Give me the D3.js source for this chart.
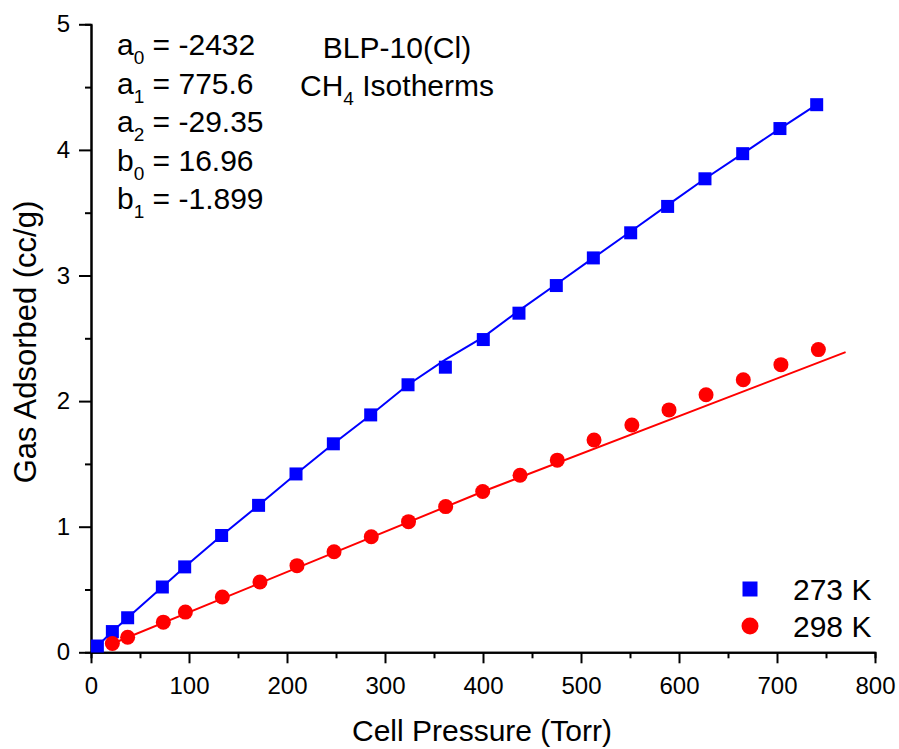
<!DOCTYPE html>
<html>
<head>
<meta charset="utf-8" />
<title>BLP-10(Cl) CH4 Isotherms</title>
<style>
    body { margin: 0; background: #fff; }
    text { font-family: Arial, "Liberation Sans", sans-serif; fill: #000; }
</style>
</head>
<body>
<div id="container"></div>
<script src="https://cdn.jsdelivr.net/npm/d3@7"></script>
<script>
    // data
    const p273 = [6.5, 21.8, 37.4, 72.8, 95.6, 133.3, 171, 209.2, 247.3, 285.4, 323.5, 361.6, 400.3, 436.7, 474.8, 512.6, 550.7, 588.4, 626.5, 665, 703, 740.5]
    const v273 = [0.05, 0.165, 0.275, 0.52, 0.68, 0.93, 1.17, 1.42, 1.66, 1.89, 2.13, 2.27, 2.49, 2.70, 2.92, 3.14, 3.34, 3.55, 3.77, 3.97, 4.17, 4.36]
    const p298 = [21.8, 37.4, 73.8, 96.3, 134, 172.4, 210.2, 248, 286, 324, 361.9, 399.7, 437.8, 475.8, 513.3, 551.9, 589.8, 627.6, 665.6, 704, 742.2]
    const v298 = [0.07, 0.12, 0.24, 0.32, 0.44, 0.56, 0.69, 0.80, 0.92, 1.04, 1.16, 1.28, 1.41, 1.53, 1.69, 1.81, 1.93, 2.05, 2.17, 2.29, 2.41]
    // fit curves
    const fit273x = [6.5, 21.8, 37.4, 72.8, 95.6, 133.3, 171, 209.2, 247.3, 285.4, 323.5, 361.6, 400.3, 436.7, 474.8, 512.6, 550.7, 588.4, 626.5, 665, 703, 740.5]
    const fit273y = [0.05, 0.165, 0.275, 0.52, 0.68, 0.93, 1.17, 1.42, 1.66, 1.89, 2.13, 2.33, 2.51, 2.72, 2.93, 3.14, 3.35, 3.56, 3.77, 3.97, 4.17, 4.36]
    const fit298x = [16, 400, 770]
    const fit298y = [0.05, 1.28, 2.39]
    const xTicks = [0, 100, 200, 300, 400, 500, 600, 700, 800]
    const yTicks = [0, 1, 2, 3, 4, 5]
    const params = [['a', '0', ' = -2432'], ['a', '1', ' = 775.6'], ['a', '2', ' = -29.35'], ['b', '0', ' = 16.96'], ['b', '1', ' = -1.899']]

    const W = 899, H = 749
    const x0 = 91, x1 = 875, y0 = 652.3, y1 = 24.3

    const svg = d3.select('#container').append('svg').attr('width', W).attr('height', H)

    const xScale = d3.scaleLinear().domain([0, 800]).range([x0, x1])
    const yScale = d3.scaleLinear().domain([0, 5]).range([y0, y1])

    // axes
    const xAxis = d3.axisBottom(xScale).tickValues(xTicks).tickFormat(d3.format('d')).tickSize(11).tickSizeOuter(0).tickPadding(14)
    const xMinor = d3.axisBottom(xScale).tickValues(d3.range(50, 800, 100)).tickSize(6).tickFormat('')
    const yAxis = d3.axisLeft(yScale).tickValues(yTicks).tickFormat(d3.format('d')).tickSize(12).tickSizeOuter(0).tickPadding(9)
    const yMinor = d3.axisLeft(yScale).tickValues(d3.range(0.5, 5, 1)).tickSize(6).tickFormat('')

    function styleAxis(g) {
        g.selectAll('path, line').attr('stroke', '#000').attr('stroke-width', 2)
        g.selectAll('text').style('font-size', '24px')
    }
    svg.append('g').attr('transform', `translate(0,${y0})`).call(xMinor).call(styleAxis)
    svg.append('g').attr('transform', `translate(0,${y0})`).call(xAxis).call(styleAxis)
    svg.append('g').attr('transform', `translate(${x0},0)`).call(yMinor).call(styleAxis)
    svg.append('g').attr('transform', `translate(${x0},0)`).call(yAxis).call(styleAxis)

    svg.append('text').attr('x', 482).attr('y', 741).attr('text-anchor', 'middle')
        .style('font-size', '30px').text('Cell Pressure (Torr)')
    svg.append('text').attr('transform', `translate(36,342) rotate(-90)`).attr('text-anchor', 'middle')
        .style('font-size', '31px').text('Gas Adsorbed (cc/g)')

    // fit lines
    const line = d3.line().x(d => xScale(d[0])).y(d => yScale(d[1]))
    svg.append('path').datum(d3.zip(fit273x, fit273y)).attr('d', line)
        .attr('fill', 'none').attr('stroke', '#0000ff').attr('stroke-width', 2)
    svg.append('path').datum(d3.zip(fit298x, fit298y)).attr('d', line)
        .attr('fill', 'none').attr('stroke', '#ff0000').attr('stroke-width', 2)

    // markers
    const sq = 13
    svg.append('g').selectAll('rect').data(d3.zip(p273, v273)).join('rect')
        .attr('x', d => xScale(d[0]) - sq / 2).attr('y', d => yScale(d[1]) - sq / 2)
        .attr('width', sq).attr('height', sq).attr('fill', '#0000ff')
    svg.append('g').selectAll('circle').data(d3.zip(p298, v298)).join('circle')
        .attr('cx', d => xScale(d[0])).attr('cy', d => yScale(d[1]))
        .attr('r', 7.5).attr('fill', '#ff0000')

    // parameters text
    const pt = svg.append('g')
    params.forEach((p, i) => {
        const t = pt.append('text').attr('x', 117).attr('y', 55 + i * 38.5).style('font-size', '30px')
        t.append('tspan').text(p[0])
        t.append('tspan').attr('dy', 9).style('font-size', '19px').text(p[1])
        t.append('tspan').attr('dy', -9).text(p[2])
    })

    svg.append('text').attr('x', 397).attr('y', 58).attr('text-anchor', 'middle').style('font-size', '30px').text('BLP-10(Cl)')
    const ch = svg.append('text').attr('x', 397).attr('y', 96).attr('text-anchor', 'middle').style('font-size', '30px')
    ch.append('tspan').text('CH')
    ch.append('tspan').attr('dy', 9).style('font-size', '19px').text('4')
    ch.append('tspan').attr('dy', -9).text(' Isotherms')

    // legend
    const lsq = 15
    const legend = [{ label: '273 K', c: '#0000ff', shape: 'sq', y: 589 }, { label: '298 K', c: '#ff0000', shape: 'ci', y: 626 }]
    legend.forEach(l => {
        if (l.shape === 'sq') {
            svg.append('rect').attr('x', 750 - lsq / 2).attr('y', l.y - lsq / 2).attr('width', lsq).attr('height', lsq).attr('fill', l.c)
        } else {
            svg.append('circle').attr('cx', 750).attr('cy', l.y).attr('r', 8.5).attr('fill', l.c)
        }
        svg.append('text').attr('x', 793).attr('y', l.y + 11).style('font-size', '30px').text(l.label)
    })
</script>
</body>
</html>
